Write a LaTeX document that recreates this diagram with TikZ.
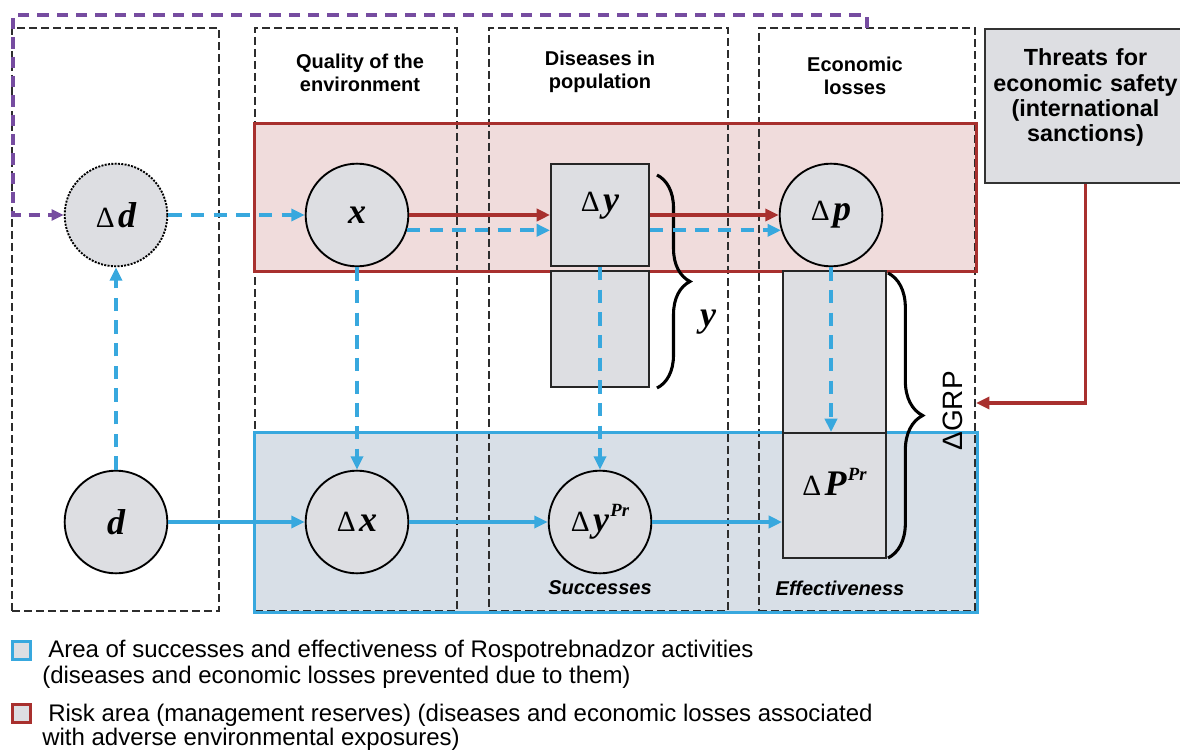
\documentclass[tikz,border=0pt]{standalone}
\usepackage{fontspec}
\setmainfont{Liberation Sans}
\newfontfamily\serifrm{Liberation Serif}
\usetikzlibrary{arrows.meta,decorations.pathreplacing,fit,calc}

\definecolor{pinkfill}{RGB}{240,220,220}
\definecolor{redline}{RGB}{168,48,46}
\definecolor{bluefill}{RGB}{216,223,231}
\definecolor{blueline}{RGB}{56,168,222}
\definecolor{grayfill}{RGB}{221,222,226}
\definecolor{purpline}{RGB}{118,76,160}
\definecolor{dashgray}{RGB}{45,45,45}

\newcommand\Dlt{{\serifrm\fontsize{22pt}{22pt}\selectfont Δ\kern2.5pt}}
\newcommand\mvar[1]{{\serifrm\bfseries\itshape\fontsize{27pt}{27pt}\selectfont #1}}
\newcommand\msup[1]{\kern1pt\raisebox{11pt}{\serifrm\bfseries\itshape\fontsize{14pt}{14pt}\selectfont #1}}

\begin{document}
\begin{tikzpicture}[x=0.75pt,y=-0.75pt,
  colbox/.style={draw=dashgray, line width=1.3pt, dash pattern=on 6pt off 3pt, inner sep=0pt},
  circ/.style={circle, draw=black, line width=1.4pt, fill=grayfill, minimum size=77pt, inner sep=0pt},
  gbox/.style={draw=black!85, line width=1.4pt, fill=grayfill, inner sep=0pt},
  tip/.style={-{Triangle[length=10pt,width=9pt]}},
  rarr/.style={draw=redline, line width=2.8pt, tip},
  barr/.style={draw=blueline, line width=2.8pt, tip},
  bdash/.style={barr, dash pattern=on 10pt off 7pt},
  parr/.style={draw=purpline, line width=2.6pt, dash pattern=on 8.5pt off 6pt, -{Triangle[length=9pt,width=8pt]}},
  head/.style={font=\bfseries\fontsize{15pt}{17.5pt}\selectfont, align=center},
  note/.style={font=\bfseries\itshape\fontsize{15pt}{17pt}\selectfont},
  legtext/.style={font=\fontsize{18pt}{19.5pt}\selectfont, anchor=base west, inner sep=0pt},
  legsq/.style={minimum size=14pt, inner sep=0pt, fill=grayfill, line width=2.4pt},
  bracey/.style={decorate, decoration={brace, amplitude=24.75pt}, draw=black, line width=2.3pt},
  bracep/.style={decorate, decoration={brace, amplitude=26pt}, draw=black, line width=2.3pt}
]
\useasboundingbox (0,0) rectangle (1180,752);

% region fills
\node[fit={(255,124) (976,271)}, inner sep=0pt, fill=pinkfill] (risk) {};
\node[fit={(255,433) (977,612)}, inner sep=0pt, fill=bluefill] (succ) {};

% columns
\node[colbox, fit={(12,28) (219,611)}] (col1) {};
\node[colbox, fit={(255,28) (457,611)}] (col2) {};
\node[colbox, fit={(489,28) (728,611)}] (col3) {};
\node[colbox, fit={(759,28) (975,611)}] (col4) {};

% region strokes
\draw[redline, line width=2.5pt] (risk.north west) rectangle (risk.south east);
\draw[blueline, line width=2.5pt] (succ.north west) rectangle (succ.south east);

% headers
\node[head] (hq) at (360,73) {Quality of the\\environment};
\node[head] (hd) at (600,72) {Diseases in\\population};
\node[head] (he) at (855,76) {Economic\\losses};

% threats
\node[draw=black!80, line width=1.4pt, fill=grayfill, inner sep=0pt, fit={(985,29) (1186,183)},
      font=\bfseries\fontsize{17.5pt}{18.8pt}\selectfont, align=center] (threats)
      {Threats for\\economic safety\\(international\\sanctions)};

% nodes
\node[circ, dash pattern=on 1.5pt off 1pt] (dd) at (116,215) {\Dlt\mvar{d}};
\node[circ] (xq) at (357,215) {\mvar{x}};
\node[gbox, fit={(551,164) (649,266)}] (dy) {\Dlt\mvar{y}};
\node[gbox, fit={(551,271) (649,387)}] (ylow) {};
\node[circ] (dp) at (831,215) {\Dlt\mvar{p}};
\node[gbox, fit={(783,271) (886,433)}] (pup) {};
\node[gbox, fit={(783,433) (886,558)}] (plow) {\Dlt\mvar{P}\msup{Pr}};
\node[circ] (d) at (116,522) {\mvar{d}};
\node[circ] (dx) at (357,522) {\Dlt\mvar{x}};
\node[circ] (dyp) at (600,522) {\Dlt\mvar{y}\msup{Pr}};

% braces and labels
\coordinate (yb1) at (657,175);
\coordinate (yb2) at (657,388);
\draw[bracey] (yb1) -- (yb2);
\node (ylab) at (708,322) {\mvar{y}};
\coordinate (gb1) at (888,273);
\coordinate (gb2) at (888,558);
\draw[bracep] (gb1) -- (gb2);
\node[rotate=90, font=\fontsize{21pt}{21pt}\selectfont] (grp) at (953,411) {ΔGRP};

\node[note] (succlab) at (600,588) {Successes};
\node[note] (efflab) at (840,588) {Effectiveness};

% connectors
\draw[bdash] (dd) -- (xq);
\draw[rarr] (xq) -- (dy);
\draw[bdash] (xq.-17) -- (xq.-17 -| dy.west);
\draw[rarr] (dy) -- (dp);
\draw[bdash] (dy.east |- dp.197) -- (dp.197);
\draw[bdash] (xq) -- (dx);
\draw[bdash] (dy) -- (dyp);
\draw[bdash] (dp.south) -- (dp.south |- plow.north);
\draw[bdash] (d) -- (dd);
\draw[barr] (d) -- (dx);
\draw[barr] (dx) -- (dyp);
\draw[barr] (dyp) -- (dyp -| plow.west);

\coordinate (grpin) at (976,403);
\draw[rarr] (threats.south) |- (grpin);

\coordinate (ptop) at (867,28);
\coordinate (pcorner) at (13,15);
\draw[parr] (ptop) |- (pcorner) |- (dd.west);

% legend
\node[legsq, draw=blueline] (lsq1) at (21.5,650.5) {};
\node[legtext] (l1) at (48,657) {Area of successes and effectiveness of Rospotrebnadzor activities};
\node[legtext] (l2) at (42,683) {(diseases and economic losses prevented due to them)};
\node[legsq, draw=redline] (lsq2) at (21.5,713.5) {};
\node[legtext] (l3) at (48,721) {Risk area (management reserves) (diseases and economic losses associated};
\node[legtext] (l4) at (42,745) {with adverse environmental exposures)};
\end{tikzpicture}
\end{document}
